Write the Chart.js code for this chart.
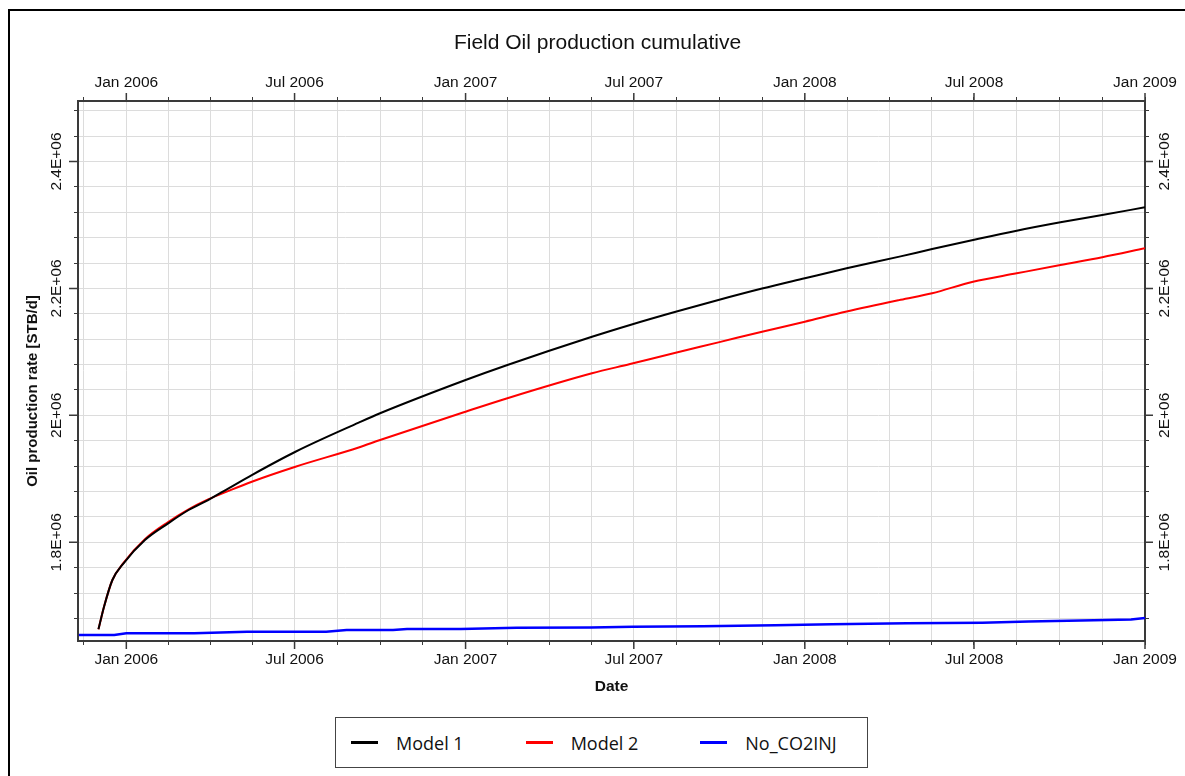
<!DOCTYPE html>
<html>
<head>
<meta charset="utf-8">
<title>Field Oil production cumulative</title>
<script src="https://cdn.jsdelivr.net/npm/chart.js@4.4.1/dist/chart.umd.min.js"></script>
<style>
  html, body { margin: 0; padding: 0; background: #fff; overflow: hidden; }
  #wrap { position: relative; width: 1185px; height: 776px; }
  #c { position: absolute; left: 0; top: 0; }
  #legend {
    position: absolute; left: 335px; top: 717px; width: 533px; height: 51px;
    box-sizing: border-box; border: 1px solid #444; background: #fff;
    display: flex; align-items: center; gap: 62px; padding-left: 15px;
    font-family: "Open Sans", sans-serif; font-size: 18px; color: #111;
  }
  #legend .item { display: flex; align-items: center; white-space: nowrap; }
  #legend .swatch { width: 27px; height: 3px; margin-right: 18px; }
</style>
</head>
<body>
<div id="wrap">
  <canvas id="c" width="1185" height="776"></canvas>
  <div id="legend"></div>
</div>
<script>
// ---- series ----
const modelDates = ['2005-12-02','2005-12-08','2005-12-17','2005-12-29','2006-01-21','2006-02-15',
  '2006-03-09','2006-03-30','2006-04-21','2006-05-16','2006-07-02','2006-09-08','2006-10-01',
  '2007-01-01','2007-02-15','2007-05-17','2007-06-27','2007-08-15','2007-09-30','2007-11-16',
  '2008-01-01','2008-02-15','2008-04-13','2008-05-17','2008-06-30','2008-08-16','2008-10-02',
  '2008-11-16','2009-01-01'];
const model1Values = [1662900, 1698500, 1740600, 1766900, 1803600, 1829900,
  1850900, 1866600, 1885100, 1906000, 1942700, 1988500, 2003300,
  2055700, 2079400, 2123900, 2142500, 2163300, 2181800, 2199800,
  2216000, 2231700, 2250500, 2262000, 2276300, 2291000, 2304200,
  2315700, 2327800];
const model2Values = [1662900, 1698500, 1740600, 1767500, 1805000, 1832000,
  1852000, 1867500, 1881000, 1895500, 1919100, 1949400, 1961200,
  2005800, 2027000, 2066300, 2080900, 2098800, 2115000, 2131800,
  2147600, 2163500, 2182000, 2192300, 2210600, 2223800, 2236900,
  2249100, 2263200];
const noInjDates = ['2005-11-11','2005-12-19','2006-01-01','2006-03-15','2006-05-11','2006-08-04',
  '2006-08-26','2006-10-15','2006-10-30','2006-12-27','2007-02-25','2007-05-16','2007-06-30',
  '2007-09-13','2007-11-30','2008-01-30','2008-04-20','2008-07-10','2008-08-29','2008-11-07',
  '2008-12-17','2009-01-01'];
const noInjValues = [1653900, 1654000, 1656600, 1656700, 1659000, 1659200,
  1661800, 1662000, 1663400, 1663600, 1665200, 1665600, 1666800,
  1667600, 1669500, 1670700, 1672300, 1673100, 1675200, 1677300,
  1678200, 1680800];

// ---- axes ----
const xMinDate = '2005-11-10';
const xMaxDate = '2009-01-01';
const xLabelDates = ['2006-01-01','2006-07-01','2007-01-01','2007-07-01','2008-01-01','2008-07-01','2009-01-01'];
const xLabels = ['Jan 2006','Jul 2006','Jan 2007','Jul 2007','Jan 2008','Jul 2008','Jan 2009'];
const yMin = 1644500;
const yMax = 2495300;
const yGridStep = 40000;
const yLabelValues = [1800000, 2000000, 2200000, 2400000];
const yLabels = ['1.8E+06', '2E+06', '2.2E+06', '2.4E+06'];

// days counted from 1 Jan 2006
const EPOCH = Date.UTC(2006, 0, 1);
const toDay = s => (Date.parse(s + 'T00:00:00Z') - EPOCH) / 86400000;
const xMin = toDay(xMinDate), xMax = toDay(xMaxDate);
const xLabelDays = xLabelDates.map(toDay);

function xTicks() {
  // half-year boundaries, each split in four
  const edges = [toDay('2005-07-01'), ...xLabelDays];
  const out = [];
  for (let i = 0; i < edges.length - 1; i++) {
    for (let k = 0; k < 4; k++) out.push(edges[i] + (edges[i + 1] - edges[i]) * k / 4);
  }
  out.push(edges[edges.length - 1]);
  return out.filter(v => v >= xMin && v <= xMax).map(v => ({ value: v }));
}
function yTicks() {
  const out = [];
  for (let k = Math.ceil(yMin / yGridStep); k * yGridStep <= yMax; k++) out.push({ value: k * yGridStep });
  return out;
}
function xLabelFor(v) {
  const i = xLabelDays.findIndex(d => Math.abs(d - v) < 0.01);
  return i >= 0 ? xLabels[i] : '';
}
const pts = (dates, vals) => dates.map((d, i) => ({ x: toDay(d), y: vals[i] }));

Chart.defaults.font.family = '"Liberation Sans", Arial, sans-serif';
Chart.defaults.font.size = 15.5;
Chart.defaults.color = '#111';

const AXIS = '#3a3a3a', GRID = '#dcdcdc', TICK_LEN = 4;

const xAxisBase = {
  type: 'linear', min: xMin, max: xMax,
  afterBuildTicks: s => { s.ticks = xTicks(); },
  ticks: { autoSkip: false, maxRotation: 0, minRotation: 0, padding: 5, callback: v => xLabelFor(v) },
  border: { color: AXIS, width: 2 },
};
const yAxisBase = {
  type: 'linear', min: yMin, max: yMax,
  afterBuildTicks: s => { s.ticks = yTicks(); },
  ticks: { display: false },
  border: { color: AXIS, width: 2 },
};

// frame, rotated y labels, y title and longer major tick marks
const decor = {
  id: 'decor',
  beforeDraw(chart) {
    const ctx = chart.ctx;
    ctx.save();
    ctx.fillStyle = '#fff';
    ctx.fillRect(0, 0, chart.width, chart.height);
    ctx.strokeStyle = '#000';
    ctx.lineWidth = 2;
    ctx.strokeRect(9, 10, chart.width + 50, chart.height + 50);
    ctx.restore();
  },
  afterDraw(chart) {
    const ctx = chart.ctx, a = chart.chartArea;
    const sx = chart.scales.x, sy = chart.scales.y, sy2 = chart.scales.y2;
    ctx.save();
    ctx.strokeStyle = AXIS;
    ctx.lineWidth = 1.5;
    ctx.beginPath();
    xLabelDays.forEach(d => {
      const px = sx.getPixelForValue(d);
      ctx.moveTo(px, a.bottom); ctx.lineTo(px, a.bottom + 8);
      ctx.moveTo(px, a.top); ctx.lineTo(px, a.top - 8);
    });
    yLabelValues.forEach(v => {
      const py = sy.getPixelForValue(v);
      ctx.moveTo(a.left, py); ctx.lineTo(a.left - 9, py);
      ctx.moveTo(a.right, py); ctx.lineTo(a.right + 8, py);
    });
    ctx.stroke();

    ctx.fillStyle = '#111';
    ctx.font = '15.5px "Liberation Sans", Arial, sans-serif';
    ctx.textAlign = 'center';
    ctx.textBaseline = 'middle';
    yLabelValues.forEach((v, i) => {
      [[sy, sy.right - 21.5], [sy2, sy2.left + 20]].forEach(([s, px]) => {
        const py = s.getPixelForValue(v);
        ctx.save();
        ctx.translate(px, py);
        ctx.rotate(-Math.PI / 2);
        ctx.fillText(yLabels[i], 0, 0);
        ctx.restore();
      });
    });

    ctx.font = 'bold 15px "Liberation Sans", Arial, sans-serif';
    ctx.translate(sy.left + 23, (a.top + a.bottom) / 2 + 20);
    ctx.rotate(-Math.PI / 2);
    ctx.fillText('Oil production rate [STB/d]', 0, 0);
    ctx.restore();
  }
};

const chart = new Chart(document.getElementById('c'), {
  type: 'line',
  data: {
    datasets: [
      { label: 'Model 1', data: pts(modelDates, model1Values), borderColor: '#000000', backgroundColor: '#000000',
        borderWidth: 2, pointRadius: 0, cubicInterpolationMode: 'monotone' },
      { label: 'Model 2', data: pts(modelDates, model2Values), borderColor: '#ff0000', backgroundColor: '#ff0000',
        borderWidth: 2, pointRadius: 0, cubicInterpolationMode: 'monotone' },
      { label: 'No_CO2INJ', data: pts(noInjDates, noInjValues), borderColor: '#0000ff', backgroundColor: '#0000ff',
        borderWidth: 2.5, pointRadius: 0, tension: 0 },
    ]
  },
  options: {
    responsive: false,
    animation: false,
    devicePixelRatio: 1,
    layout: { padding: { left: 10, right: 0, top: 0, bottom: 75.6 } },
    plugins: {
      legend: { display: false },
      tooltip: { enabled: false },
      title: {
        display: true, text: 'Field Oil production cumulative', color: '#111',
        font: { size: 21, weight: 'normal' }, padding: { top: 31, bottom: 4 }
      }
    },
    scales: {
      x: { ...xAxisBase, position: 'bottom',
        grid: { color: GRID, lineWidth: 1, tickColor: AXIS, tickLength: TICK_LEN },
        title: { display: true, text: 'Date', color: '#111', font: { weight: 'bold', size: 15.5 }, padding: { top: 0, bottom: 4 } },
        afterFit: s => { s.height = 59.4; } },
      x2: { ...xAxisBase, position: 'top',
        grid: { drawOnChartArea: false, tickColor: AXIS, tickLength: TICK_LEN },
        afterFit: s => { s.height = 40.8; } },
      y: { ...yAxisBase, position: 'left',
        grid: { color: GRID, lineWidth: 1, tickColor: AXIS, tickLength: TICK_LEN },
        afterFit: s => { s.width = 68; } },
      y2: { ...yAxisBase, position: 'right',
        grid: { drawOnChartArea: false, tickColor: AXIS, tickLength: TICK_LEN },
        afterFit: s => { s.width = 40; } },
    }
  },
  plugins: [decor]
});

// legend entries from the datasets
const legend = document.getElementById('legend');
chart.data.datasets.forEach(ds => {
  const item = document.createElement('div');
  item.className = 'item';
  const sw = document.createElement('span');
  sw.className = 'swatch';
  sw.style.background = ds.borderColor;
  const tx = document.createElement('span');
  tx.textContent = ds.label;
  item.appendChild(sw);
  item.appendChild(tx);
  legend.appendChild(item);
});
</script>
</body>
</html>
